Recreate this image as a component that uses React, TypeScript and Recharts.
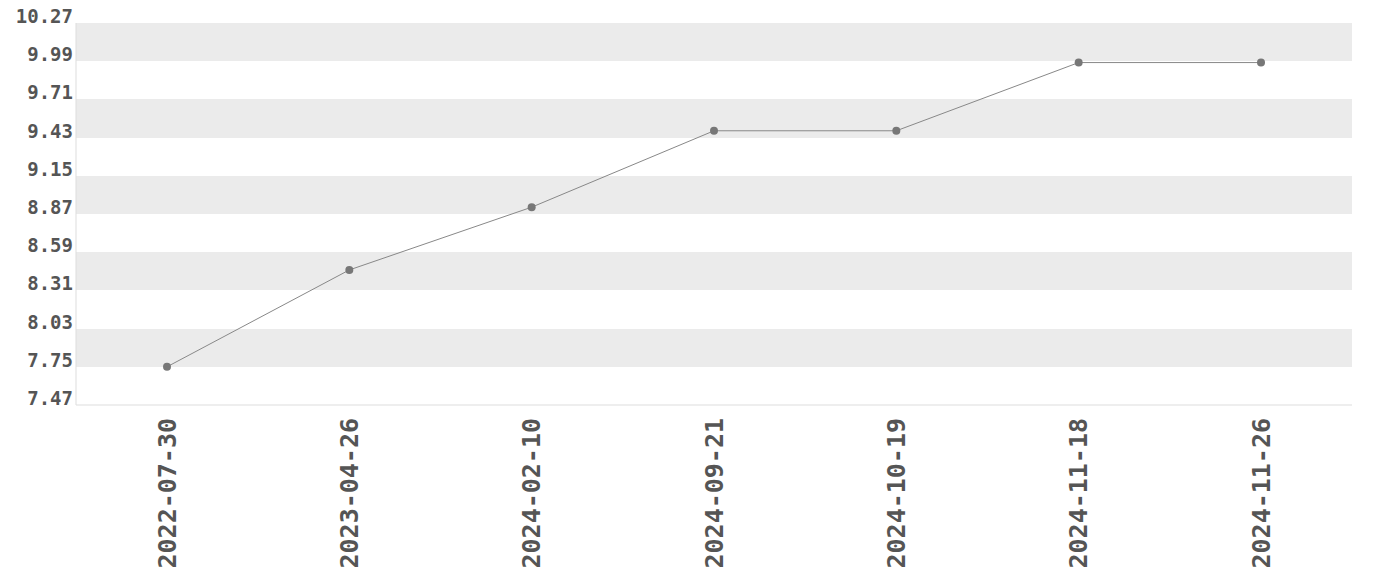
import { LineChart, Line, XAxis, YAxis, CartesianGrid } from 'recharts';

const dates = ['2022-07-30', '2023-04-26', '2024-02-10', '2024-09-21', '2024-10-19', '2024-11-18', '2024-11-26'];
const values = [7.75, 8.46, 8.92, 9.48, 9.48, 9.98, 9.98];
const yTicks = [7.47, 7.75, 8.03, 8.31, 8.59, 8.87, 9.15, 9.43, 9.71, 9.99, 10.27];

const data = dates.map((d, i) => ({ date: d, value: values[i] }));

const FONT = '"DejaVu Sans Mono", monospace';

const YTick = ({ x, y, payload }: any) => (
  <text
    x={x + 5}
    y={y - 7}
    textAnchor="end"
    dominantBaseline="central"
    fontFamily={FONT}
    fontWeight="bold"
    fontSize={19}
    fill="#555"
  >
    {payload.value.toFixed(2)}
  </text>
);

const XTick = ({ x, y, payload }: any) => (
  <text
    x={x}
    y={y + 5}
    transform={`rotate(-90, ${x}, ${y + 5})`}
    textAnchor="end"
    dominantBaseline="central"
    fontFamily={FONT}
    fontWeight="bold"
    fontSize={25}
    fill="#555"
  >
    {payload.value}
  </text>
);

export default function App() {
  return (
    <div style={{ marginTop: -8 }}>
      <LineChart width={1364} height={572} data={data} margin={{ top: 23, right: 20, left: 0, bottom: 0 }}>
        <CartesianGrid
          vertical={false}
          stroke="none"
          horizontalFill={['#ebebeb', '#ffffff']}
          fillOpacity={1}
        />
        <XAxis
          dataKey="date"
          height={167}
          padding={{ left: 91, right: 91 }}
          axisLine={{ stroke: '#dddddd' }}
          tickLine={false}
          interval={0}
          tick={<XTick />}
        />
        <XAxis xAxisId="top" orientation="top" height={0} dataKey="date" tick={false} tickLine={false} axisLine={{ stroke: '#dddddd' }} />
        <YAxis
          domain={[7.47, 10.27]}
          ticks={yTicks}
          width={68}
          axisLine={{ stroke: '#dddddd' }}
          tickLine={false}
          tick={<YTick />}
          interval={0}
        />
        <YAxis yAxisId="right" orientation="right" width={0} tick={false} tickLine={false} axisLine={{ stroke: '#dddddd' }} />
        <Line
          dataKey="value"
          type="linear"
          stroke="#888888"
          strokeWidth={1}
          dot={{ r: 4, fill: '#777777', stroke: 'none' }}
          activeDot={false}
          isAnimationActive={false}
        />
      </LineChart>
    </div>
  );
}
